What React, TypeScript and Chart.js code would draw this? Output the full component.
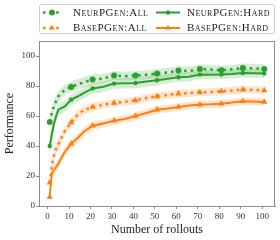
import React, { useEffect, useRef } from "react";
import { Chart, registerables } from "chart.js";
Chart.register(...registerables);

const rollouts = [1, 2, 3, 4, 5, 6, 8, 11, 14, 17, 21, 26, 31, 36, 41, 46, 51, 56, 61, 66, 71, 76, 81, 86, 91, 96, 101];
const neurAll = [56, 62, 67, 70, 73, 74.5, 77.5, 79.4, 81, 82.5, 84.3, 85, 87, 86.5, 87, 87.5, 88.3, 89, 90.3, 90, 91.4, 91, 90.5, 91.2, 92, 91.8, 91.4];
const neurAllErr = [4, 4, 3.5, 3.5, 3.5, 3.5, 3.5, 3.5, 3.5, 3.5, 3.5, 3, 3, 3, 3, 3, 3, 3, 3, 3, 3, 3, 3, 3, 3, 3, 3];
const neurHard = [40, 48, 55, 60, 64, 65, 66.4, 70.9, 73, 75.4, 78.4, 79.5, 81.6, 81.8, 82, 83, 83.8, 84.8, 85.8, 86.2, 87.6, 87.5, 87.6, 88, 88.7, 88.5, 88.3];
const neurHardErr = [7, 6, 5, 4.5, 4, 4, 3.5, 3.5, 3.5, 3.5, 3.5, 3.5, 3.5, 3.5, 3.5, 3.5, 3.5, 3, 3, 3, 3, 3, 3, 3, 3, 3, 3];
const baseAll = [15.5, 27, 34, 38, 41, 44, 50, 55.7, 60.9, 64, 66, 67.5, 68.7, 69.5, 70.4, 72, 73.1, 74, 74.9, 75.2, 75.8, 76, 76.5, 77, 77.6, 77.5, 77.1];
const baseAllErr = [4, 4, 4, 3.5, 3.5, 3.5, 3, 3, 3, 3, 3, 2.5, 2.5, 2.5, 2.5, 2.5, 2.5, 2.5, 2.5, 2.5, 2.5, 2.5, 2.5, 2.5, 2.5, 2.5, 2.5];
const baseHard = [6, 22, 24, 26, 28, 31, 36, 41.5, 45.3, 49.7, 53.5, 55, 56.9, 58, 60, 62, 64.2, 65, 66, 67, 67.6, 67.8, 68.2, 69, 69.8, 69.6, 69.4];
const baseHardErr = [3, 4, 3.5, 3, 3, 3, 3, 3, 3, 3, 3, 2.5, 2.5, 2.5, 2.5, 2.5, 2.5, 2.5, 2.5, 2.5, 2.5, 2.5, 2.5, 2.5, 2.5, 2.5, 2.5];

const seriesLabels = ["NeurPGen:All", "NeurPGen:Hard", "BasePGen:All", "BasePGen:Hard"];
const xTicks = [0, 10, 20, 30, 40, 50, 60, 70, 80, 90, 100];
const yTicks = [0, 20, 40, 60, 80, 100];
const xTitle = "Number of rollouts";
const yTitle = "Performance";

const GREEN = "#2ca02c";
const ORANGE = "#ff7f0e";
const GRAY = "#8c8c8c";
const SERIF = "'Liberation Serif', 'DejaVu Serif', serif";

type Spec = { vals: number[]; err: number[]; color: string; band: string; dotted: boolean; style: string; r: number };
const specs: Spec[] = [
  { vals: neurAll, err: neurAllErr, color: GREEN, band: "rgba(44,160,44,0.2)", dotted: true, style: "circle", r: 3 },
  { vals: neurHard, err: neurHardErr, color: GREEN, band: "rgba(44,160,44,0.2)", dotted: false, style: "circle", r: 2.2 },
  { vals: baseAll, err: baseAllErr, color: ORANGE, band: "rgba(255,127,14,0.2)", dotted: true, style: "triangle", r: 3 },
  { vals: baseHard, err: baseHardErr, color: ORANGE, band: "rgba(255,127,14,0.2)", dotted: false, style: "triangle", r: 3 },
];

const markerAt = (i: number) => (rollouts[i] - 1) % 10 === 0;

function drawMarker(ctx: CanvasRenderingContext2D, style: string, x: number, y: number, r: number, color: string) {
  ctx.fillStyle = color;
  ctx.beginPath();
  if (style === "circle") {
    ctx.arc(x, y, r, 0, Math.PI * 2);
  } else {
    const h = r * 1.5;
    ctx.moveTo(x, y - h * 0.66);
    ctx.lineTo(x + r * 1.0, y + h * 0.34);
    ctx.lineTo(x - r * 1.0, y + h * 0.34);
    ctx.closePath();
  }
  ctx.fill();
}

const legendPlugin = {
  id: "customLegend",
  afterDraw(chart: any) {
    const ctx: CanvasRenderingContext2D = chart.ctx;
    const ca = chart.chartArea;
    ctx.save();
    // frame of plot
    ctx.strokeStyle = GRAY;
    ctx.lineWidth = 1;
    ctx.strokeRect(ca.left + 0.5, ca.top + 0.5, ca.right - ca.left - 1, ca.bottom - ca.top);
    // legend box
    const bx = ca.left, by = 4.5, bw = ca.right - ca.left, bh = 29, rad = 2;
    ctx.fillStyle = "rgba(255,255,255,0.9)";
    ctx.strokeStyle = "#d0d0d0";
    ctx.beginPath();
    ctx.roundRect(bx + 0.5, by, bw - 1, bh, rad);
    ctx.fill();
    ctx.stroke();
    const cols = [{ x0: 43, x1: 61, mx: 52, tx: 73 }, { x0: 156, x1: 180, mx: 168, tx: 187 }];
    const rows = [12.5, 28];
    [0, 1, 2, 3].forEach((si, k) => {
      const s = specs[si];
      const c = cols[k % 2];
      const y = rows[Math.floor(k / 2)];
      ctx.strokeStyle = s.color;
      ctx.lineWidth = s.dotted ? 2.5 : 2;
      ctx.setLineDash(s.dotted ? [2.5, 4.1] : []);
      ctx.beginPath();
      ctx.moveTo(c.x0, y);
      ctx.lineTo(c.x1, y);
      ctx.stroke();
      ctx.setLineDash([]);
      drawMarker(ctx, s.style, c.mx, y, s.r, s.color);
      ctx.fillStyle = "#222";
      ctx.font = `small-caps 11px ${SERIF}`;
      (ctx as any).letterSpacing = "0.5px";
      ctx.textBaseline = "middle";
      ctx.textAlign = "left";
      ctx.fillText(seriesLabels[si], c.tx, y + 0.5);
      (ctx as any).letterSpacing = "0px";
    });
    ctx.restore();
  },
};

export default function App() {
  const ref = useRef<HTMLCanvasElement>(null);
  useEffect(() => {
    const datasets: any[] = [];
    specs.forEach((s, si) => {
      datasets.push({
        label: "lo" + si,
        data: rollouts.map((x, i) => ({ x, y: s.vals[i] - s.err[i] })),
        borderWidth: 0,
        pointRadius: 0,
        fill: false,
        order: 10,
      });
      datasets.push({
        label: "hi" + si,
        data: rollouts.map((x, i) => ({ x, y: s.vals[i] + s.err[i] })),
        borderWidth: 0,
        pointRadius: 0,
        backgroundColor: s.band,
        fill: "-1",
        order: 10,
      });
    });
    specs.forEach((s, si) => {
      datasets.push({
        label: seriesLabels[si],
        data: rollouts.map((x, i) => ({ x, y: s.vals[i] })),
        borderColor: s.color,
        backgroundColor: s.color,
        borderWidth: s.dotted ? 2.5 : 2,
        borderDash: s.dotted ? [2.5, 4.1] : [],
        borderCapStyle: "butt",
        fill: false,
        tension: 0,
        pointStyle: s.style,
        pointRadius: (c: any) => (markerAt(c.dataIndex) ? (s.style === "triangle" ? s.r * 1.2 : s.r) : 0),
        pointBorderWidth: 0,
        pointBackgroundColor: s.color,
        order: 1,
      });
    });
    const chart = new Chart(ref.current!, {
      type: "line",
      data: { datasets },
      options: {
        animation: false,
        responsive: false,
        layout: { padding: { top: 41, right: 5, left: 0, bottom: 0 } },
        plugins: { legend: { display: false }, tooltip: { enabled: false } },
        scales: {
          x: {
            type: "linear",
            min: -4,
            max: 106,
            afterBuildTicks: (sc: any) => { sc.ticks = xTicks.map((v) => ({ value: v })); },
            afterFit: (sc: any) => { sc.height = 34; },
            grid: { drawOnChartArea: false, drawTicks: true, tickLength: 3, color: GRAY },
            border: { display: true, color: GRAY },
            ticks: { color: "#333", font: { family: SERIF, size: 9 }, padding: 2, maxRotation: 0, autoSkip: false },
            title: { display: true, text: xTitle, color: "#222", font: { family: SERIF, size: 12 }, padding: { top: 0, bottom: 3 } },
          },
          y: {
            type: "linear",
            min: 0,
            max: 110,
            afterBuildTicks: (sc: any) => { sc.ticks = yTicks.map((v) => ({ value: v })); },
            afterFit: (sc: any) => { sc.width = 39; },
            grid: { drawOnChartArea: false, drawTicks: true, tickLength: 3, color: GRAY },
            border: { display: true, color: GRAY },
            ticks: { color: "#333", font: { family: SERIF, size: 9 }, padding: 1, autoSkip: false },
            title: { display: true, text: yTitle, color: "#222", font: { family: SERIF, size: 12 }, padding: { top: 2.8, bottom: 0 } },
          },
        },
      },
      plugins: [legendPlugin],
    } as any);
    return () => chart.destroy();
  }, []);
  return (
    <div style={{ position: "fixed", left: 0, top: 0, width: 280, height: 240, background: "#fff" }}>
      <canvas ref={ref} width={280} height={240} />
    </div>
  );
}
